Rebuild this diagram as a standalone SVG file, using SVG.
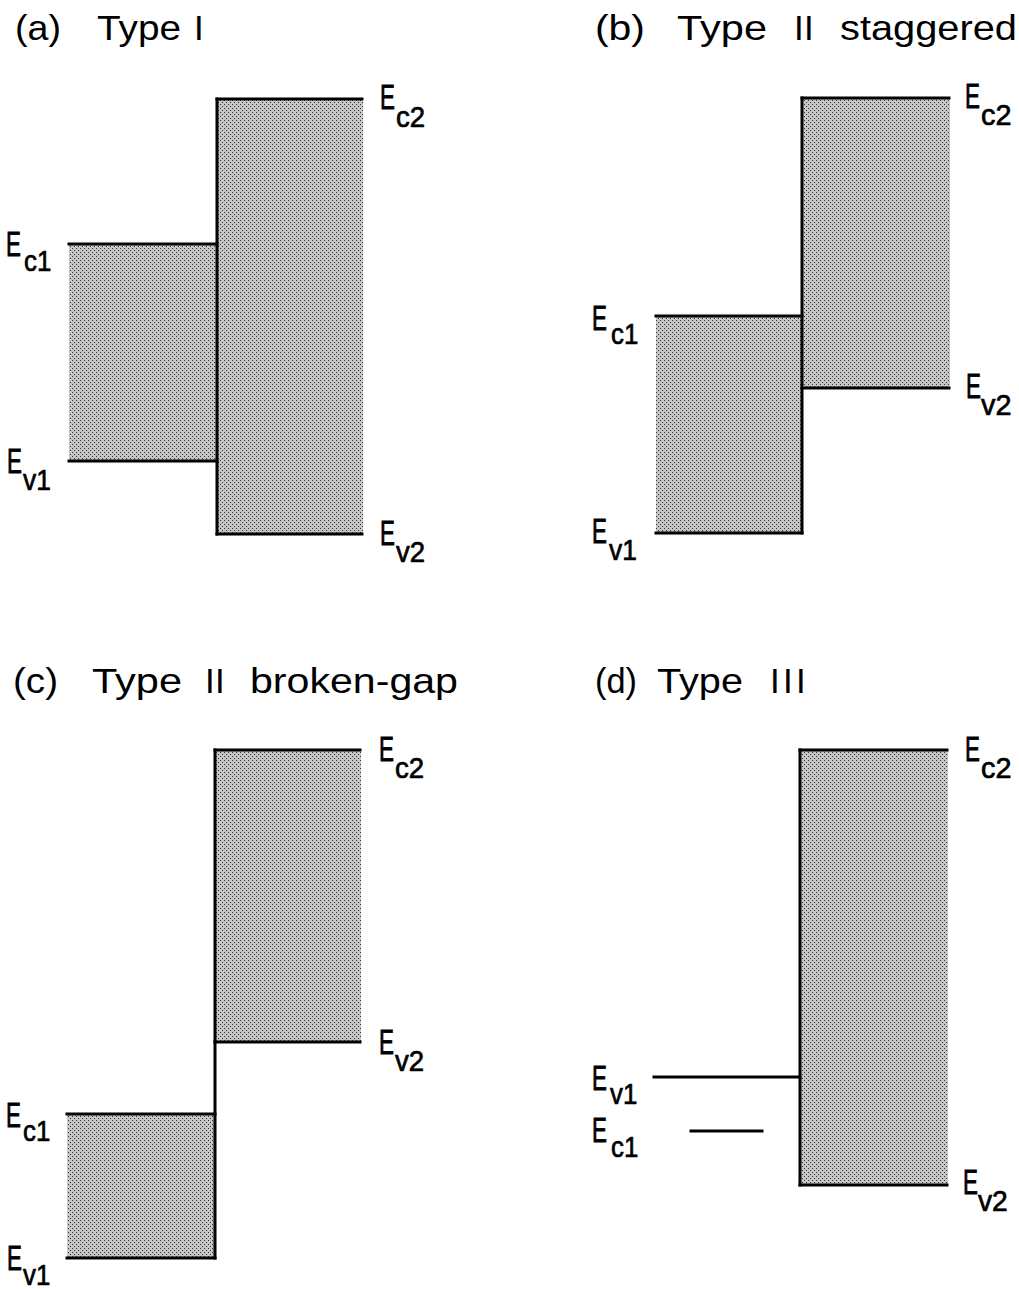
<svg xmlns="http://www.w3.org/2000/svg" width="1019" height="1289" viewBox="0 0 1019 1289">
<style>
  .t { font-family: "Liberation Sans", Arial, sans-serif; font-size: 35px; fill: #000; }
  .e { font-family: "Liberation Sans", Arial, sans-serif; font-size: 35px; fill: #000; stroke: #000; stroke-width: 0.8; }
  .s { font-family: "Liberation Sans", Arial, sans-serif; font-size: 30px; fill: #000; stroke: #000; stroke-width: 0.7; }
  .band { fill: url(#dots); stroke: none; }
  .lv { stroke: #000; stroke-width: 3; fill: none; stroke-linecap: square; }
</style>
<defs>
  <pattern id="dots" width="4" height="4" patternUnits="userSpaceOnUse">
    <rect width="4" height="4" fill="#c6c6c6"/>
    <rect x="0" y="0" width="1" height="1" fill="#303030"/>
    <rect x="2" y="2" width="1" height="1" fill="#303030"/>
  </pattern>
</defs>
<rect width="1019" height="1289" fill="#fff"/>

<!-- Panel (a) -->
<g id="panel-a">
  <text class="t" y="40"><tspan x="15" textLength="46" lengthAdjust="spacingAndGlyphs">(a)</tspan><tspan x="97" textLength="84" lengthAdjust="spacingAndGlyphs">Type</tspan><tspan x="194">I</tspan></text>
  <g id="a-band1"><rect class="band" x="69" y="244" width="148" height="217"/></g>
  <g id="a-band2"><rect class="band" x="217" y="99" width="146" height="435"/></g>
  <g id="a-levels">
    <line class="lv" x1="69" y1="244" x2="217" y2="244"/>
    <line class="lv" x1="69" y1="461" x2="217" y2="461"/>
    <line class="lv" x1="217" y1="99" x2="217" y2="534"/>
    <line class="lv" x1="217" y1="99" x2="362" y2="99"/>
    <line class="lv" x1="217" y1="534" x2="362" y2="534"/>
  </g>
  <g id="a-labels">
    <text class="e" transform="translate(380 109) scale(0.64 1)">E</text><text class="s" transform="translate(396 127) scale(0.92 1)">c2</text>
    <text class="e" transform="translate(380 545) scale(0.64 1)">E</text><text class="s" transform="translate(396 562) scale(0.92 1)">v2</text>
    <text class="e" transform="translate(6 256) scale(0.64 1)">E</text><text class="s" transform="translate(24 271) scale(0.86 1)">c1</text>
    <text class="e" transform="translate(7 473) scale(0.64 1)">E</text><text class="s" transform="translate(23 490) scale(0.88 1)">v1</text>
  </g>
</g>

<!-- Panel (b) -->
<g id="panel-b">
  <text class="t" y="40"><tspan x="595" textLength="50" lengthAdjust="spacingAndGlyphs">(b)</tspan><tspan x="677" textLength="90" lengthAdjust="spacingAndGlyphs">Type</tspan><tspan x="794">I</tspan><tspan x="804">I</tspan><tspan x="840" textLength="177" lengthAdjust="spacingAndGlyphs">staggered</tspan></text>
  <g id="b-band1"><rect class="band" x="656" y="316" width="146" height="217"/></g>
  <g id="b-band2"><rect class="band" x="802" y="98" width="148" height="290"/></g>
  <g id="b-levels">
    <line class="lv" x1="656" y1="316" x2="802" y2="316"/>
    <line class="lv" x1="656" y1="533" x2="802" y2="533"/>
    <line class="lv" x1="802" y1="98" x2="802" y2="533"/>
    <line class="lv" x1="802" y1="98" x2="949" y2="98"/>
    <line class="lv" x1="802" y1="388" x2="949" y2="388"/>
  </g>
  <g id="b-labels">
    <text class="e" transform="translate(965 108) scale(0.64 1)">E</text><text class="s" transform="translate(981 125) scale(0.96 1)">c2</text>
    <text class="e" transform="translate(966 398) scale(0.64 1)">E</text><text class="s" transform="translate(981 415) scale(0.96 1)">v2</text>
    <text class="e" transform="translate(592 330) scale(0.64 1)">E</text><text class="s" transform="translate(611 344) scale(0.86 1)">c1</text>
    <text class="e" transform="translate(592 543) scale(0.64 1)">E</text><text class="s" transform="translate(609 560) scale(0.88 1)">v1</text>
  </g>
</g>

<!-- Panel (c) -->
<g id="panel-c">
  <text class="t" y="693"><tspan x="13" textLength="45" lengthAdjust="spacingAndGlyphs">(c)</tspan><tspan x="92" textLength="90" lengthAdjust="spacingAndGlyphs">Type</tspan><tspan x="205">I</tspan><tspan x="215">I</tspan><tspan x="250" textLength="208" lengthAdjust="spacingAndGlyphs">broken-gap</tspan></text>
  <g id="c-band1"><rect class="band" x="67" y="1114" width="148" height="144"/></g>
  <g id="c-band2"><rect class="band" x="215" y="750" width="146" height="292"/></g>
  <g id="c-levels">
    <line class="lv" x1="67" y1="1114" x2="215" y2="1114"/>
    <line class="lv" x1="67" y1="1258" x2="215" y2="1258"/>
    <line class="lv" x1="215" y1="750" x2="215" y2="1258"/>
    <line class="lv" x1="215" y1="750" x2="360" y2="750"/>
    <line class="lv" x1="215" y1="1042" x2="360" y2="1042"/>
  </g>
  <g id="c-labels">
    <text class="e" transform="translate(379 761) scale(0.64 1)">E</text><text class="s" transform="translate(395 778) scale(0.92 1)">c2</text>
    <text class="e" transform="translate(379 1054) scale(0.64 1)">E</text><text class="s" transform="translate(395 1071) scale(0.92 1)">v2</text>
    <text class="e" transform="translate(6 1127) scale(0.64 1)">E</text><text class="s" transform="translate(23 1141) scale(0.86 1)">c1</text>
    <text class="e" transform="translate(7 1270) scale(0.64 1)">E</text><text class="s" transform="translate(23 1285) scale(0.86 1)">v1</text>
  </g>
</g>

<!-- Panel (d) -->
<g id="panel-d">
  <text class="t" y="693"><tspan x="595" textLength="42" lengthAdjust="spacingAndGlyphs">(d)</tspan><tspan x="657" textLength="86" lengthAdjust="spacingAndGlyphs">Type</tspan><tspan x="770">I</tspan><tspan x="783">I</tspan><tspan x="796">I</tspan></text>
  <g id="d-band2"><rect class="band" x="800" y="750" width="148" height="435"/></g>
  <g id="d-levels">
    <line class="lv" x1="800" y1="750" x2="800" y2="1185"/>
    <line class="lv" x1="800" y1="750" x2="947" y2="750"/>
    <line class="lv" x1="800" y1="1185" x2="947" y2="1185"/>
    <line class="lv" x1="654" y1="1077" x2="800" y2="1077"/>
    <line class="lv" x1="691" y1="1131" x2="762" y2="1131"/>
  </g>
  <g id="d-labels">
    <text class="e" transform="translate(965 761) scale(0.64 1)">E</text><text class="s" transform="translate(981 778) scale(0.96 1)">c2</text>
    <text class="e" transform="translate(963 1194) scale(0.64 1)">E</text><text class="s" transform="translate(978 1211) scale(0.94 1)">v2</text>
    <text class="e" transform="translate(592 1090) scale(0.64 1)">E</text><text class="s" transform="translate(610 1104) scale(0.86 1)">v1</text>
    <text class="e" transform="translate(592 1142) scale(0.64 1)">E</text><text class="s" transform="translate(611 1157) scale(0.86 1)">c1</text>
  </g>
</g>
</svg>
